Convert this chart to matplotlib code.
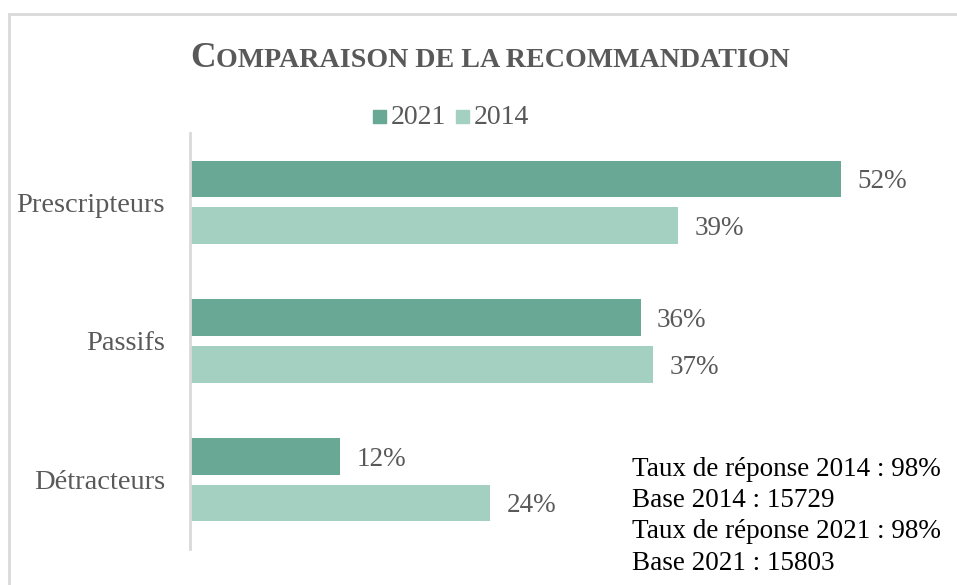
import matplotlib.pyplot as plt
import matplotlib.patches as mpatches

# recommendation shares (%)
categories = ['Prescripteurs', 'Passifs', 'Détracteurs']
values_2021 = [52, 36, 12]
values_2014 = [39, 37, 24]
series_names = ['2021', '2014']
note_lines = ['Taux de réponse 2014 : 98%',
              'Base 2014 : 15729',
              'Taux de réponse 2021 : 98%',
              'Base 2021 : 15803']

dark = '#68A895'
light = '#A4D0C1'
grey = '#595959'
serif = 'Liberation Serif'

fig = plt.figure(figsize=(9.57, 5.85), dpi=100)
W, H = 957, 585

# light frame around the chart (runs off right and bottom)
fig.patches.append(mpatches.Rectangle((9 / W, -0.05), 1.05, 1 - 14 / H + 0.05,
                                      transform=fig.transFigure, fill=False,
                                      edgecolor='#D9D9D9', linewidth=2))

ax = fig.add_axes([190 / W, 1 - 549 / H, 751 / W, (549 - 133) / H])
pos = list(range(len(categories)))
h = 0.265
off = 0.168
ax.barh([p - off for p in pos], values_2021, height=h, color=dark)
ax.barh([p + off for p in pos], values_2014, height=h, color=light)
ax.set_xlim(0, 60)
ax.set_ylim(2.5, -0.5)

for p, v in zip(pos, values_2021):
    ax.text(v + 1.3, p - off + 0.02, f'{v}%', va='center', ha='left',
            fontsize=19.5, color=grey, family=serif)
for p, v in zip(pos, values_2014):
    ax.text(v + 1.3, p + off + 0.02, f'{v}%', va='center', ha='left',
            fontsize=19.5, color=grey, family=serif)

ax.set_yticks(pos)
ax.set_yticklabels(categories, fontsize=20.5, color=grey, family=serif)
ax.tick_params(axis='y', length=0, pad=18)
ax.set_xticks([])
for s in ['top', 'right', 'bottom']:
    ax.spines[s].set_visible(False)
ax.spines['left'].set_color('#D9D9D9')
ax.spines['left'].set_linewidth(2)

# title in small caps: big initial then smaller capitals
t1 = fig.text(190 / W, 1 - 67 / H, 'C', fontsize=25.5, fontweight='bold',
              color=grey, family=serif, va='baseline')
fig.canvas.draw()
bb = t1.get_window_extent()
fig.text(bb.x1 / W, 1 - 67 / H, 'OMPARAISON DE LA RECOMMANDATION', fontsize=20.2,
         fontweight='bold', color=grey, family=serif, va='baseline')

# legend
for x0, c, name in [(373, dark, series_names[0]), (456, light, series_names[1])]:
    fig.patches.append(mpatches.Rectangle((x0 / W, 1 - 123 / H), 13 / W, 13 / H,
                                          transform=fig.transFigure, color=c))
    fig.text((x0 + 18) / W, 1 - 118 / H, name, fontsize=20, color=grey,
             family=serif, va='center', ha='left')

# response rate note
for i, line in enumerate(note_lines):
    fig.text(632 / W, 1 - (469 + i * 31.5) / H, line, fontsize=19.5,
             color='black', family=serif, va='center', ha='left')

fig.savefig('out.png', dpi=100)
